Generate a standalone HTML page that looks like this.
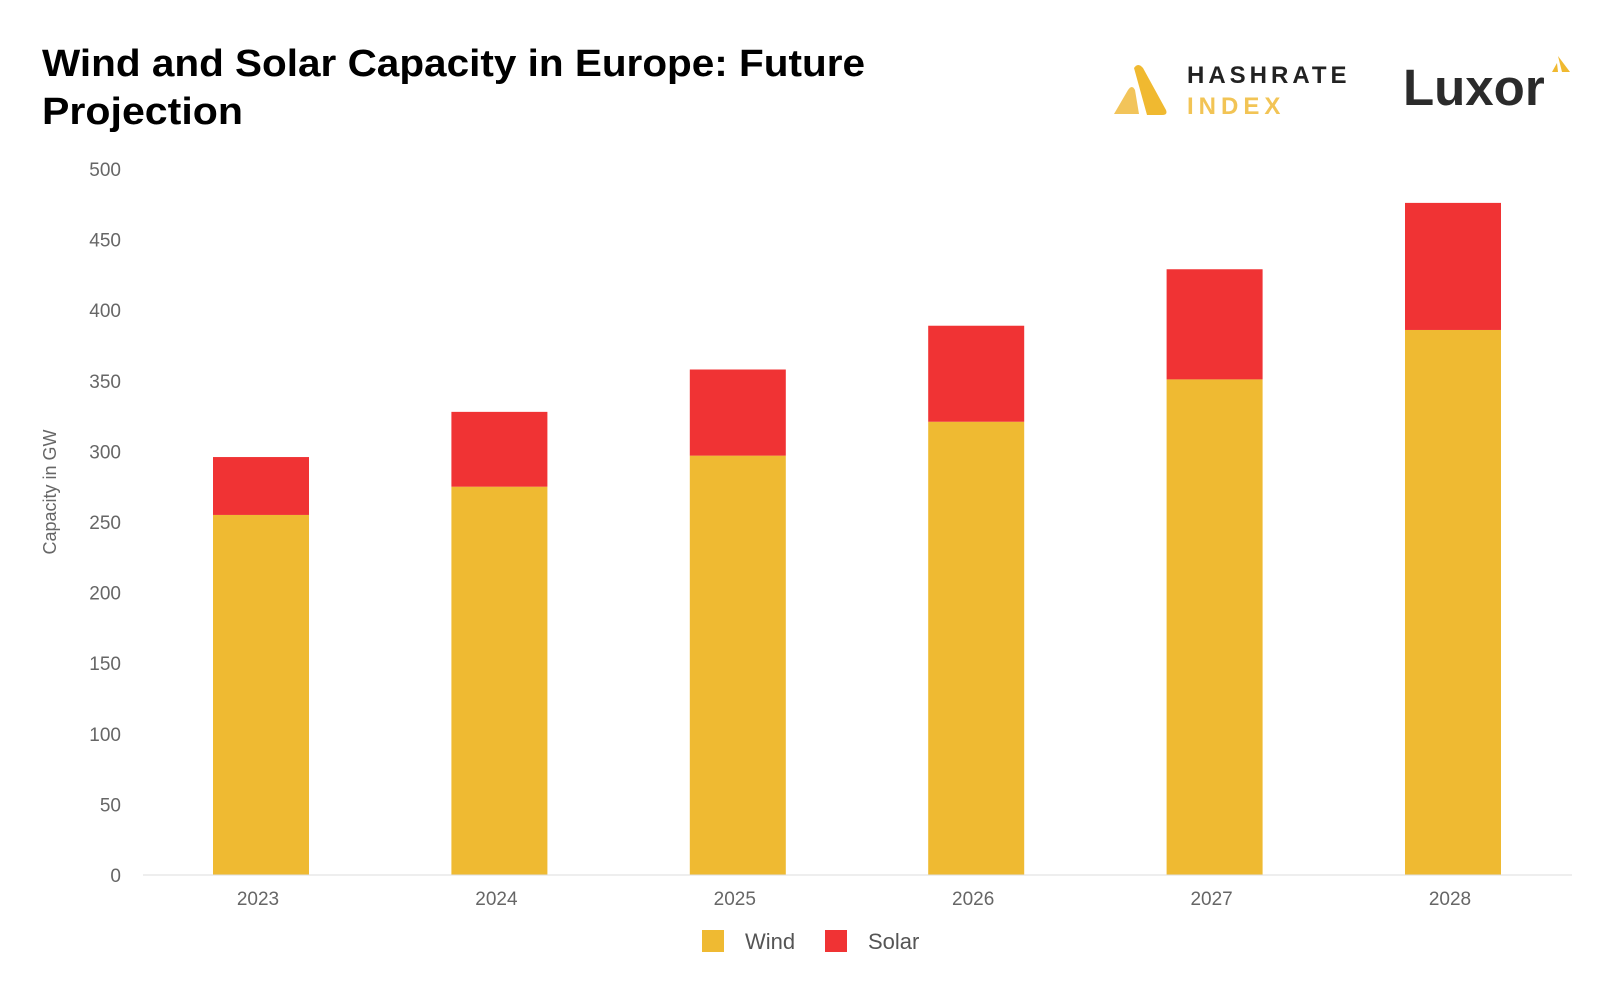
<!DOCTYPE html>
<html><head><meta charset="utf-8"><style>
body{margin:0;background:#fff;}
svg{display:block;font-family:"Liberation Sans",sans-serif;}
</style></head><body>
<svg width="1624" height="989" viewBox="0 0 1624 989">
<text x="42" y="76" font-size="38" font-weight="bold" fill="#000" textLength="823" lengthAdjust="spacingAndGlyphs">Wind and Solar Capacity in Europe: Future</text>
<text x="42" y="124" font-size="38" font-weight="bold" fill="#000" textLength="201" lengthAdjust="spacingAndGlyphs">Projection</text>
<g>
<path d="M1114 114 L1128 90 Q1132 84 1135 90 L1139 114 Z" fill="#f2c45a"/>
<path d="M1134 68 Q1138 62 1143 68 L1166 110 Q1168 115 1162 115 L1147 115 Z" fill="#f0b930"/>
<text x="1187" y="83" font-size="24" font-weight="bold" letter-spacing="4" fill="#222">HASHRATE</text>
<text x="1187" y="114" font-size="24" font-weight="bold" letter-spacing="5" fill="#f2c455">INDEX</text>
</g>
<g>
<text x="1403" y="105" font-size="51" font-weight="bold" fill="#2b2b2b">Luxor</text>
<path d="M1552 72 L1557 63 L1558 72 Z M1558 56 L1570 72 L1562 72 Z" fill="#f0b930"/>
</g>
<text transform="translate(56,492) rotate(-90)" text-anchor="middle" font-size="18" fill="#666">Capacity in GW</text>
<g id="yaxis"></g>
<g id="bars"></g>
<line x1="143" x2="1572" y1="875" y2="875" stroke="#ddd" stroke-width="1"/>
<g id="xaxis"></g>
<g>
<rect x="702" y="930" width="22" height="22" fill="#efba32"/>
<text x="745" y="949" font-size="22" fill="#555">Wind</text>
<rect x="825" y="930" width="22" height="22" fill="#f03334"/>
<text x="868" y="949" font-size="22" fill="#555">Solar</text>
</g>
</svg>
<script>
const categories=["2023","2024","2025","2026","2027","2028"];
const wind=[255,275,297,321,351,386];
const solar=[41,53,61,68,78,90];
const yTicks=[0,50,100,150,200,250,300,350,400,450,500];
const NS="http://www.w3.org/2000/svg";
function y(v){return 875-v*1.412;}
function xc(i){return 261+i*238.4;}
const bw=96;
const ya=document.getElementById('yaxis'),bg=document.getElementById('bars'),xa=document.getElementById('xaxis');
yTicks.forEach(t=>{const e=document.createElementNS(NS,'text');
e.setAttribute('x',121);e.setAttribute('y',y(t)+7);e.setAttribute('text-anchor','end');e.setAttribute('font-size','19');e.setAttribute('fill','#666');e.textContent=t;


ya.appendChild(e);});
categories.forEach((c,i)=>{
const w=document.createElementNS(NS,'rect');
w.setAttribute('x',xc(i)-bw/2);w.setAttribute('width',bw);w.setAttribute('y',y(wind[i]));w.setAttribute('height',y(0)-y(wind[i]));w.setAttribute('fill','#efba32');


bg.appendChild(w);
const s=document.createElementNS(NS,'rect');
s.setAttribute('x',xc(i)-bw/2);s.setAttribute('width',bw);s.setAttribute('y',y(wind[i]+solar[i]));s.setAttribute('height',y(wind[i])-y(wind[i]+solar[i]));s.setAttribute('fill','#f03334');


bg.appendChild(s);
const t=document.createElementNS(NS,'text');
t.setAttribute('x',xc(i)-3);t.setAttribute('y',905);t.setAttribute('text-anchor','middle');t.setAttribute('font-size','19');t.setAttribute('fill','#666');t.textContent=c;


xa.appendChild(t);
});
</script>
</body></html>
